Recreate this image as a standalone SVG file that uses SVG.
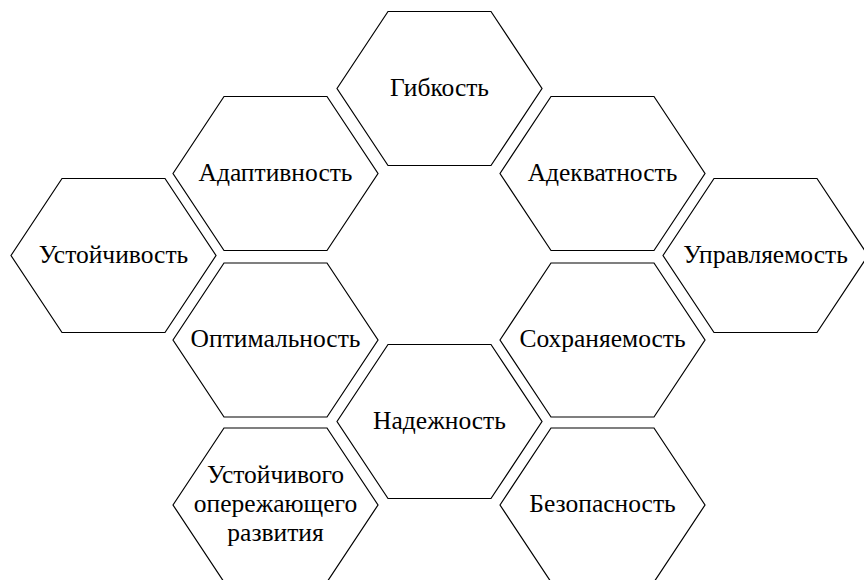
<svg xmlns="http://www.w3.org/2000/svg" xmlns:xlink="http://www.w3.org/1999/xlink" width="864" height="580" viewBox="0 0 864 580">
  <style>
    .hex { fill: #ffffff; stroke: #000000; stroke-width: 1.2; stroke-linejoin: miter; }
    text { font-family: 'Liberation Serif', 'DejaVu Serif', serif; font-size: 25.5px; fill: #000000; text-anchor: middle; }
  </style>
  <defs>
    <!-- flat-topped hexagon centred on the origin -->
    <polygon id="hex" class="hex" points="-102.5,0 -51.5,-77 51.5,-77 102.5,0 51.5,77 -51.5,77"/>
  </defs>
  <rect width="864" height="580" fill="#ffffff"/>

  <g id="connectors"/>

  <g id="gibkost">
    <use xlink:href="#hex" x="439.5" y="88.5"/>
    <text x="439.5" y="95.5">Гибкость</text>
  </g>
  <g id="adaptivnost">
    <use xlink:href="#hex" x="275.5" y="173.5"/>
    <text x="275.5" y="180.5">Адаптивность</text>
  </g>
  <g id="adekvatnost">
    <use xlink:href="#hex" x="602.5" y="173.5"/>
    <text x="602.5" y="180.5">Адекватность</text>
  </g>
  <g id="ustoichivost">
    <use xlink:href="#hex" x="113.5" y="255.5"/>
    <text x="113.5" y="262.5">Устойчивость</text>
  </g>
  <g id="upravlyaemost">
    <use xlink:href="#hex" x="765.5" y="255.5"/>
    <text x="765.5" y="262.5">Управляемость</text>
  </g>
  <g id="optimalnost">
    <use xlink:href="#hex" x="275.5" y="340"/>
    <text x="275.5" y="347">Оптимальность</text>
  </g>
  <g id="sokhranyaemost">
    <use xlink:href="#hex" x="602.5" y="340"/>
    <text x="602.5" y="347">Сохраняемость</text>
  </g>
  <g id="nadezhnost">
    <use xlink:href="#hex" x="439.5" y="421.5"/>
    <text x="439.5" y="428.5">Надежность</text>
  </g>
  <g id="razvitie">
    <use xlink:href="#hex" x="275.5" y="505"/>
    <text x="275.5" y="482.5">Устойчивого</text>
    <text x="275.5" y="511.5">опережающего</text>
    <text x="275.5" y="541">развития</text>
  </g>
  <g id="bezopasnost">
    <use xlink:href="#hex" x="602.5" y="505"/>
    <text x="602.5" y="512">Безопасность</text>
  </g>
</svg>
